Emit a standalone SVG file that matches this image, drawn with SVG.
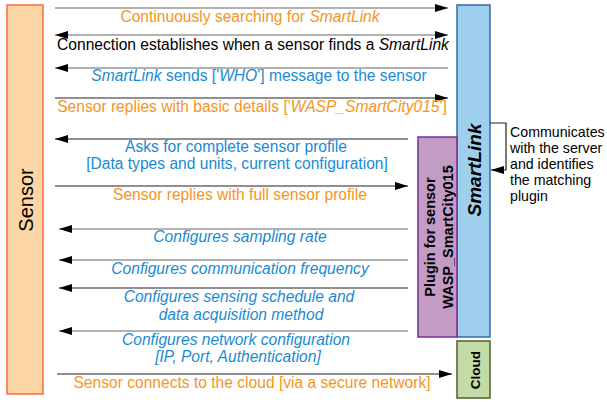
<svg xmlns="http://www.w3.org/2000/svg" width="607" height="402" viewBox="0 0 607 402">
<style>
text{font-family:"Liberation Sans",Arial,sans-serif}
.m{font-size:15.6px;text-anchor:middle}
.o{fill:#F7941D}
.b{fill:#1A8AD4}
.k{fill:#000}
.i{font-style:italic}
.ln{stroke:#222;stroke-width:1.2;fill:none}
.g{stroke:#666}
.nt{font-size:14.2px}
</style>
<defs>
<marker id="ah" viewBox="0 0 13 8" refX="13" refY="4" markerWidth="13" markerHeight="8" markerUnits="userSpaceOnUse" orient="auto-start-reverse">
<path d="M0,0 L13,4 L0,8 Z" fill="#000"/>
</marker>
</defs>
<g id="sensor">
<rect x="7" y="5" width="36" height="389" fill="#FCD5A4" stroke="#FF6B3D" stroke-width="1.5"/>
<text transform="translate(33,200) rotate(-90)" font-size="20" text-anchor="middle">Sensor</text>
</g>
<g id="smartlink">
<rect x="457" y="5" width="33" height="332" fill="#9ECFEC" stroke="#2F6BA8" stroke-width="1.5"/>
<text transform="translate(481,170) rotate(-90)" font-size="19" font-weight="bold" font-style="italic" text-anchor="middle">SmartLink</text>
</g>
<g id="plugin">
<rect x="418" y="137" width="39" height="200" fill="#C39CC6" stroke="#7A2C92" stroke-width="1.5"/>
<text transform="translate(435,237) rotate(-90)" font-size="14.5" font-weight="bold" text-anchor="middle">Plugin for sensor</text>
<text transform="translate(453,237) rotate(-90)" font-size="14.5" font-weight="bold" text-anchor="middle">WASP_SmartCity015</text>
</g>
<g id="cloud">
<rect x="457" y="341" width="33" height="57" fill="#C3DBA6" stroke="#4F6228" stroke-width="1.5"/>
<text transform="translate(480,370) rotate(-90)" font-size="13.5" font-weight="bold" text-anchor="middle">Cloud</text>
</g>
<g id="note">
<path d="M490,123 H506 V170 H491" class="ln" marker-end="url(#ah)"/>
<text x="510" y="137" class="nt">Communicates</text>
<text x="510" y="153" class="nt">with the server</text>
<text x="510" y="169" class="nt">and identifies</text>
<text x="510" y="185" class="nt">the matching</text>
<text x="510" y="201" class="nt">plugin</text>
</g>
<g id="connectors">
<line x1="55" y1="8" x2="448" y2="8" class="ln g" marker-end="url(#ah)"/>
<line x1="55" y1="35" x2="448" y2="35" class="ln g" marker-start="url(#ah)" marker-end="url(#ah)"/>
<line x1="448" y1="68" x2="55" y2="68" class="ln g" marker-end="url(#ah)"/>
<line x1="55" y1="98" x2="448" y2="98" class="ln" marker-end="url(#ah)"/>
<line x1="408" y1="139" x2="55" y2="139" class="ln" marker-end="url(#ah)"/>
<line x1="55" y1="186" x2="408" y2="186" class="ln" marker-end="url(#ah)"/>
<line x1="408" y1="229" x2="59" y2="229" class="ln g" marker-end="url(#ah)"/>
<line x1="408" y1="260" x2="59" y2="260" class="ln g" marker-end="url(#ah)"/>
<line x1="408" y1="288" x2="59" y2="288" class="ln" marker-end="url(#ah)"/>
<line x1="408" y1="331" x2="59" y2="331" class="ln g" marker-end="url(#ah)"/>
<line x1="57" y1="374" x2="452" y2="374" class="ln" marker-end="url(#ah)"/>
</g>
<g id="labels">
<text x="250" y="22" class="m o">Continuously searching for <tspan class="i">SmartLink</tspan></text>
<text x="253" y="50" class="m k">Connection establishes when a sensor finds a <tspan class="i">SmartLink</tspan></text>
<text x="259" y="81" class="m b"><tspan class="i">SmartLink</tspan> sends ['<tspan class="i">WHO</tspan>'] message to the sensor</text>
<text x="252" y="112" class="m o">Sensor replies with basic details ['<tspan class="i">WASP_SmartCity015</tspan>']</text>
<text x="236" y="152" class="m b">Asks for complete sensor profile</text>
<text x="237" y="169" class="m b">[Data types and units, current configuration]</text>
<text x="240" y="200" class="m o">Sensor replies with full sensor profile</text>
<text x="240" y="242" class="m b i">Configures sampling rate</text>
<text x="240" y="274" class="m b i">Configures communication frequency</text>
<text x="239" y="302" class="m b i">Configures sensing schedule and</text>
<text x="241" y="320" class="m b i">data acquisition method</text>
<text x="236" y="345" class="m b i">Configures network configuration</text>
<text x="238" y="362" class="m b i">[IP, Port, Authentication]</text>
<text x="252" y="388" class="m o">Sensor connects to the cloud [via a secure network]</text>
</g>
</svg>
